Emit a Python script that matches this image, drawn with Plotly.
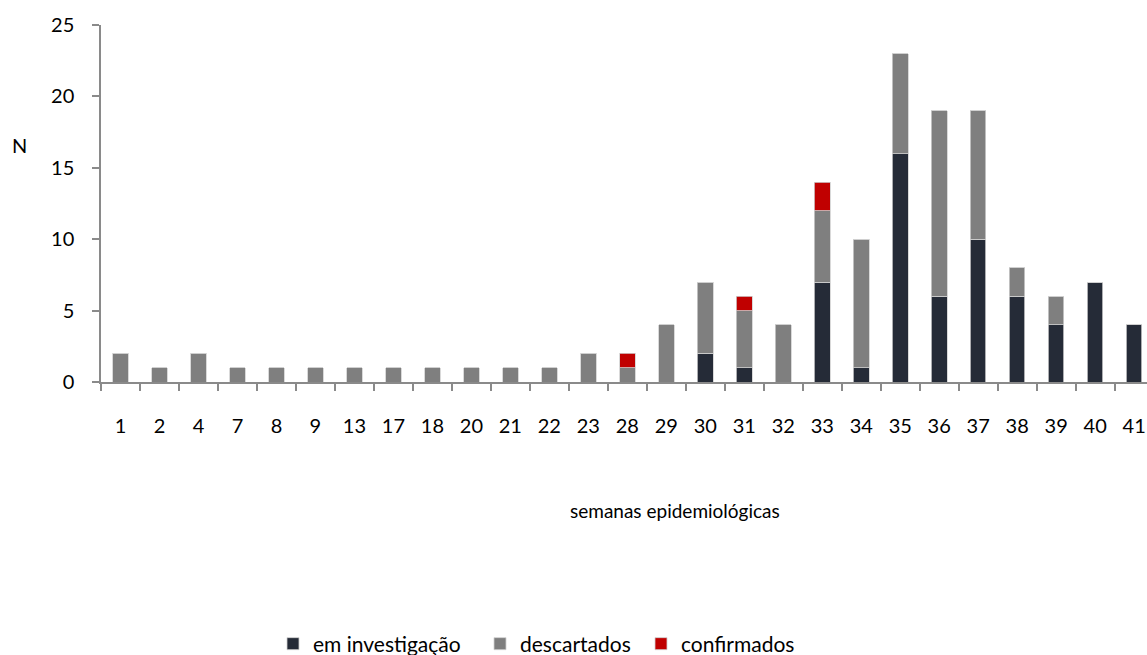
import plotly.graph_objects as go

semanas = ["1", "2", "4", "7", "8", "9", "13", "17", "18", "20", "21", "22", "23",
           "28", "29", "30", "31", "32", "33", "34", "35", "36", "37", "38", "39", "40", "41"]
em_investigacao = [0, 0, 0, 0, 0, 0, 0, 0, 0, 0, 0, 0, 0,
                   0, 0, 2, 1, 0, 7, 1, 16, 6, 10, 6, 4, 7, 4]
descartados = [2, 1, 2, 1, 1, 1, 1, 1, 1, 1, 1, 1, 2,
               1, 4, 5, 4, 4, 5, 9, 7, 13, 9, 2, 2, 0, 0]
confirmados = [0, 0, 0, 0, 0, 0, 0, 0, 0, 0, 0, 0, 0,
               1, 0, 0, 1, 0, 2, 0, 0, 0, 0, 0, 0, 0, 0]

FONT = "Lato"
line = dict(color="#d0d0d0", width=0.8)

fig = go.Figure()
fig.add_trace(go.Bar(x=semanas, y=em_investigacao, name="em investigação",
                     marker=dict(color="#252b37", line=line), legend="legend"))
fig.add_trace(go.Bar(x=semanas, y=descartados, name="descartados",
                     marker=dict(color="#7f7f7f", line=line), legend="legend2"))
fig.add_trace(go.Bar(x=semanas, y=confirmados, name="confirmados",
                     marker=dict(color="#c00000", line=line), legend="legend3"))

PL, PW, PB, PH = 101, 1046, 382, 357


def px_x(v):
    return (v - PL) / PW


def px_y(v):
    return (PB - v) / PH


def leg(xpix):
    return dict(orientation="h", xref="paper", yref="paper",
                x=px_x(xpix), y=px_y(644), xanchor="left", yanchor="middle",
                font=dict(family=FONT, size=21), itemwidth=30,
                bgcolor="rgba(0,0,0,0)")


axis_col = "#8a8a8a"
fig.update_layout(
    width=1147, height=655,
    barmode="stack", bargap=0.6,
    plot_bgcolor="white", paper_bgcolor="white",
    margin=dict(l=PL, r=0, t=25, b=273, autoexpand=False),
    font=dict(family=FONT, size=20, color="#000000"),
    showlegend=True,
    legend=leg(273), legend2=leg(480), legend3=leg(641),
    xaxis=dict(type="category", range=[-0.5, 26.33], showgrid=False,
               showline=True, linecolor=axis_col, linewidth=1.5,
               ticks="outside", tickson="boundaries", ticklen=7,
               tickcolor=axis_col, tickwidth=1.5, ticklabelstandoff=25,
               automargin=False, tickfont=dict(family=FONT, size=20)),
    yaxis=dict(range=[0, 25], dtick=5, showgrid=False, zeroline=False,
               showline=True, linecolor=axis_col, linewidth=1.5,
               ticks="outside", ticklen=7, tickcolor=axis_col, tickwidth=1.5,
               ticklabelstandoff=14, automargin=False,
               tickfont=dict(family=FONT, size=20)),
    annotations=[
        dict(text="semanas epidemiológicas", xref="paper", yref="paper",
             x=px_x(675), y=px_y(510), showarrow=False,
             xanchor="center", yanchor="middle", font=dict(family=FONT, size=19)),
        dict(text="N", xref="paper", yref="paper",
             x=px_x(19), y=px_y(145), showarrow=False,
             xanchor="center", yanchor="middle", font=dict(family=FONT, size=20)),
    ],
)

fig.write_html(
    "out.html",
    config={"displayModeBar": False},
    post_script="document.body.style.margin='0';document.body.style.overflow='hidden';",
)
